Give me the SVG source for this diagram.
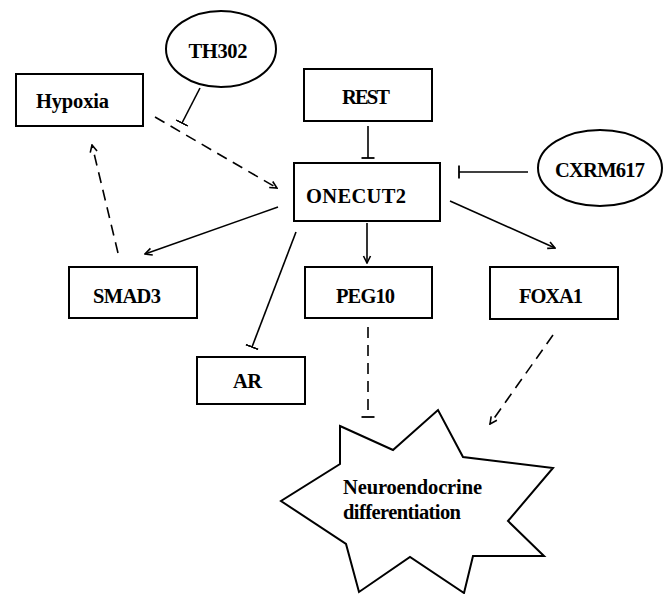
<svg xmlns="http://www.w3.org/2000/svg" width="670" height="594" viewBox="0 0 670 594">
<style>
.box{fill:#fff;stroke:#000;stroke-width:2}
.lbl{font-family:'Liberation Serif','Times New Roman',serif;font-size:20.5px;font-weight:bold;fill:#000;text-anchor:middle}
.ln{fill:none;stroke:#000;stroke-width:1.6}
.dash{stroke-dasharray:11 7}
.act{marker-end:url(#arr)}
.inh{marker-end:url(#tee)}
</style>
<defs>
<marker id="arr" viewBox="-9 -5 10 10" refX="0" refY="0" markerWidth="10" markerHeight="10" markerUnits="userSpaceOnUse" orient="auto">
<path d="M-7,-3.5 L0,0 L-7,3.5" fill="none" stroke="#000" stroke-width="1.6" stroke-dasharray="none"/>
</marker>
<marker id="tee" viewBox="-1 -8 2 16" refX="0" refY="0" markerWidth="2" markerHeight="16" markerUnits="userSpaceOnUse" orient="auto">
<path d="M0,-6.5 V6.5" fill="none" stroke="#000" stroke-width="1.8" stroke-dasharray="none"/>
</marker>
</defs>
<rect width="670" height="594" fill="#fff"/>
<g id="connectors">
<line class="ln inh" x1="200" y1="88" x2="182" y2="123"/>
<line class="ln dash act" x1="155" y1="117" x2="277" y2="188"/>
<line class="ln dash act" x1="118" y1="253" x2="92" y2="145"/>
<line class="ln inh" x1="368" y1="126" x2="368" y2="158"/>
<line class="ln inh" x1="528" y1="172" x2="459" y2="172"/>
<line class="ln act" x1="278" y1="207" x2="145" y2="254"/>
<line class="ln act" x1="367" y1="223" x2="367" y2="263"/>
<line class="ln inh" x1="296" y1="232" x2="252" y2="347"/>
<line class="ln act" x1="450" y1="201" x2="555" y2="248"/>
<line class="ln dash inh" x1="368" y1="327" x2="368" y2="417"/>
<line class="ln dash act" x1="553" y1="335" x2="490" y2="424"/>
</g>
<g id="th302">
<ellipse class="box" cx="221" cy="49" rx="55" ry="38"/>
<text class="lbl" x="218" y="58" textLength="59">TH302</text>
</g>
<g id="hypoxia">
<rect class="box" x="16" y="74" width="127" height="52"/>
<text class="lbl" x="72.5" y="108" textLength="73">Hypoxia</text>
</g>
<g id="rest">
<rect class="box" x="304" y="69" width="128" height="52"/>
<text class="lbl" x="366" y="104" textLength="48">REST</text>
</g>
<g id="onecut2">
<rect class="box" x="294" y="163" width="146" height="58"/>
<text class="lbl" x="356" y="203" textLength="100">ONECUT2</text>
</g>
<g id="cxrm617">
<ellipse class="box" cx="600" cy="168" rx="62" ry="38"/>
<text class="lbl" x="600" y="177" textLength="90">CXRM617</text>
</g>
<g id="smad3">
<rect class="box" x="69" y="267" width="128" height="51"/>
<text class="lbl" x="127" y="303" textLength="68">SMAD3</text>
</g>
<g id="peg10">
<rect class="box" x="305" y="267" width="127" height="51"/>
<text class="lbl" x="365.5" y="303" textLength="59">PEG10</text>
</g>
<g id="foxa1">
<rect class="box" x="490" y="267" width="128" height="52"/>
<text class="lbl" x="551" y="303" textLength="64">FOXA1</text>
</g>
<g id="ar">
<rect class="box" x="197" y="357" width="108" height="47"/>
<text class="lbl" x="247.5" y="388" textLength="29">AR</text>
</g>
<g id="neuroendocrine">
<polygon class="box" points="340,426 393,450 438,410 463,457 553,468 508,521 544,556 473,556 464,593 410,557 359,592 346,544 281,501 340,464"/>
<text class="lbl" x="343" y="494" style="text-anchor:start" textLength="139">Neuroendocrine</text>
<text class="lbl" x="343" y="519" style="text-anchor:start" textLength="118">differentiation</text>
</g>
</svg>
